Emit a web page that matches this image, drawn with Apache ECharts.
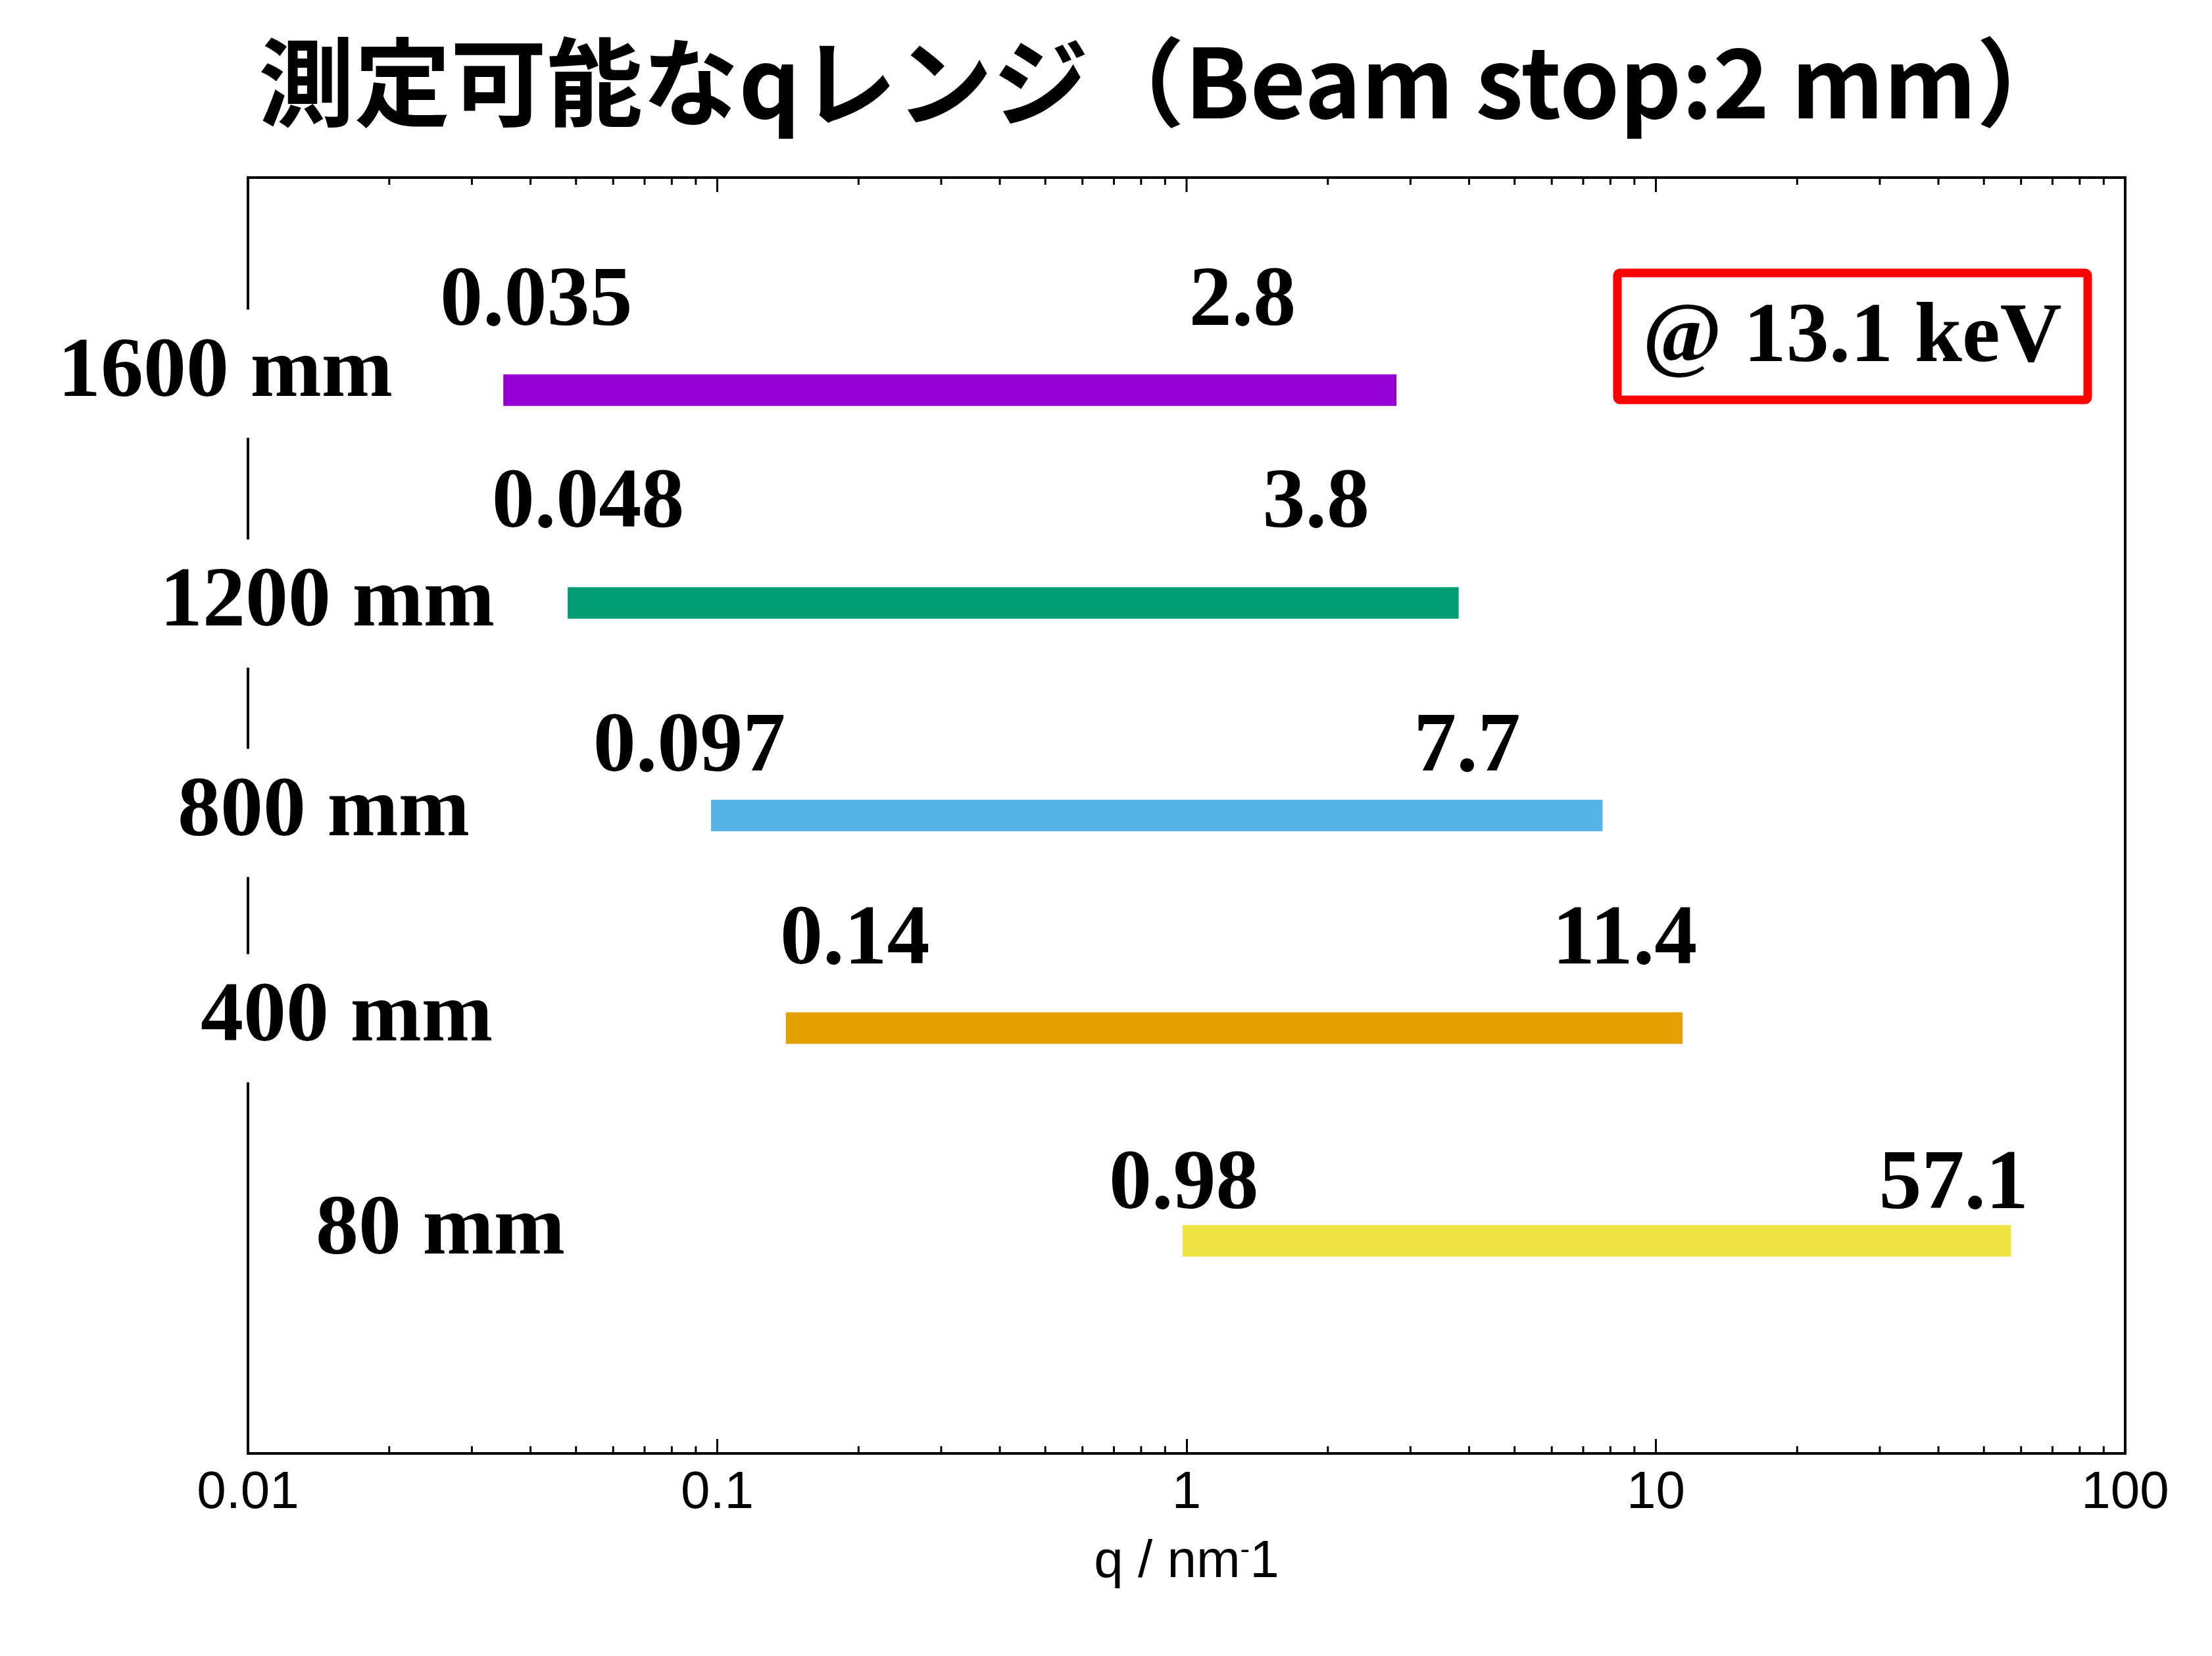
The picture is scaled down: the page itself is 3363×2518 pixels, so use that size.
<!DOCTYPE html>
<html>
<head>
<meta charset="utf-8">
<script src="https://cdn.jsdelivr.net/npm/echarts@6/dist/echarts.min.js"></script>
<style>
  html, body { margin: 0; padding: 0; background: #fff; }
  #chart { width: 3363px; height: 2518px; }
</style>
</head>
<body>
<div id="chart"></div>
<script>
// data
const distances = ['1600 mm', '1200 mm', '800 mm', '400 mm', '80 mm'];
const qMin = [0.035, 0.048, 0.097, 0.14, 0.98];
const qMax = [2.8, 3.8, 7.7, 11.4, 57.1];
const rowPos = [5, 4, 3, 2, 1];
const barColors = ['#9400D3', '#009E73', '#56B4E9', '#E69F00', '#F0E442'];
const xTicks = [0.01, 0.1, 1, 10, 100];
const minorSteps = [2, 3, 4, 5, 6, 7, 8, 9];
const energyNote = '@ 13.1 keV';
const titleText = '測定可能なqレンジ（Beam stop:2 mm）';

// hand placed texts, px offsets (the original puts them by hand too)
const rowLabelShift = [[-289, -25], [-134, 1], [-107, -4], [-72, -15], [103, -14]];
const valueLabelShift = [[50, -234, -133], [31, -217, -149], [-33, -206, -102], [105, -88, -132], [2, -87, -83]];

const minorTicks = [];
xTicks.slice(0, -1).forEach(d => minorSteps.forEach(s => minorTicks.push(+(d * s).toPrecision(3))));

const serif = '"Liberation Serif", "Times New Roman", serif';
const sans = '"Liberation Sans", Arial, sans-serif';
const Y_TOP = 6;

function label(text, x, y, extra) {
  return {
    type: 'text', x: x, y: y,
    style: Object.assign({
      text: text, fontFamily: serif, fontWeight: 'bold', fontSize: 130,
      fill: '#000', align: 'center', verticalAlign: 'middle'
    }, extra || {})
  };
}

function renderRange(params, api) {
  const i = params.dataIndex;
  const lo = api.coord([api.value(0), api.value(2)]);
  const hi = api.coord([api.value(1), api.value(2)]);
  const axisX = api.coord([xTicks[0], api.value(2)])[0];
  const h = 48;
  const sh = valueLabelShift[i];
  const rs = rowLabelShift[i];
  return {
    type: 'group',
    children: [
      { type: 'rect', shape: { x: lo[0], y: lo[1] - h / 2, width: hi[0] - lo[0], height: h },
        style: { fill: barColors[i] } },
      label(String(qMin[i]), lo[0] + sh[0], lo[1] + sh[2]),
      label(String(qMax[i]), hi[0] + sh[1], lo[1] + sh[2]),
      label(distances[i], axisX + rs[0], lo[1] + rs[1],
        { align: 'left', lineHeight: 195, backgroundColor: '#fff' })
    ]
  };
}

// ticks: value, length; bottom side only for minors, top side for all
function renderTicks(params, api) {
  const v = api.value(0);
  const len = api.value(1);
  const both = api.value(2);
  const b = api.coord([v, 0]);
  const t = api.coord([v, Y_TOP]);
  const st = { stroke: '#000', lineWidth: 3 };
  const kids = [{ type: 'line', shape: { x1: t[0], y1: t[1], x2: t[0], y2: t[1] + len }, style: st }];
  if (both) kids.push({ type: 'line', shape: { x1: b[0], y1: b[1], x2: b[0], y2: b[1] - len }, style: st });
  return { type: 'group', children: kids };
}

const tickData = minorTicks.map(v => [v, 11, 1])
  .concat(xTicks.slice(1, -1).map(v => [v, 22, 0]));

const frameLine = { show: true, lineStyle: { color: '#000', width: 4 } };

const chart = echarts.init(document.getElementById('chart'), null, { renderer: 'canvas' });
chart.setOption({
  animation: false,
  backgroundColor: '#fff',
  title: {
    text: titleText, left: 393, top: 52, padding: 0,
    textStyle: { fontFamily: '"Noto Sans CJK JP", sans-serif', fontWeight: 'bold', fontSize: 146, lineHeight: 146, color: '#000' }
  },
  grid: { left: 377, right: 132, top: 270, bottom: 308, show: true, borderColor: '#000', borderWidth: 4 },
  xAxis: {
    type: 'log', logBase: 10, min: xTicks[0], max: xTicks[xTicks.length - 1], splitNumber: 4,
    position: 'bottom',
    axisLine: frameLine,
    axisTick: { show: true, inside: true, length: 22, lineStyle: { color: '#000', width: 3 } },
    splitLine: { show: false },
    axisLabel: {
      fontFamily: sans, fontSize: 80, lineHeight: 80, color: '#000', margin: 21,
      formatter: v => String(+(+v).toPrecision(6))
    },
    name: 'q / nm{s|-}1', nameLocation: 'middle', nameGap: 126,
    nameTextStyle: {
      fontFamily: sans, fontSize: 80, lineHeight: 80, color: '#000',
      rich: { s: { fontFamily: sans, fontSize: 44, lineHeight: 44, verticalAlign: 'top', color: '#000' } }
    }
  },
  yAxis: [
    { type: 'value', min: 0, max: Y_TOP, interval: 1, position: 'left',
      axisLine: frameLine, axisTick: { show: false }, axisLabel: { show: false }, splitLine: { show: false } },
    { type: 'value', min: 0, max: Y_TOP, interval: 1, position: 'right',
      axisLine: frameLine, axisTick: { show: false }, axisLabel: { show: false }, splitLine: { show: false } }
  ],
  series: [
    {
      type: 'custom', name: 'ticks', xAxisIndex: 0, yAxisIndex: 0, clip: false, silent: true,
      renderItem: renderTicks,
      data: tickData
    },
    {
      type: 'custom', name: 'q range', xAxisIndex: 0, yAxisIndex: 0, clip: false, z: 5,
      renderItem: renderRange,
      encode: { x: [0, 1], y: 2 },
      data: distances.map((d, i) => [qMin[i], qMax[i], rowPos[i]])
    }
  ],
  graphic: [
    { type: 'rect', shape: { x: 2459, y: 415, width: 715, height: 193, r: 4 },
      style: { fill: 'none', stroke: '#FF0000', lineWidth: 13 } },
    { type: 'text', x: 2816, y: 515,
      style: { text: energyNote, fontFamily: serif, fontWeight: 'bold', fontSize: 130, fill: '#000',
        align: 'center', verticalAlign: 'middle' } }
  ]
});
</script>
</body>
</html>
